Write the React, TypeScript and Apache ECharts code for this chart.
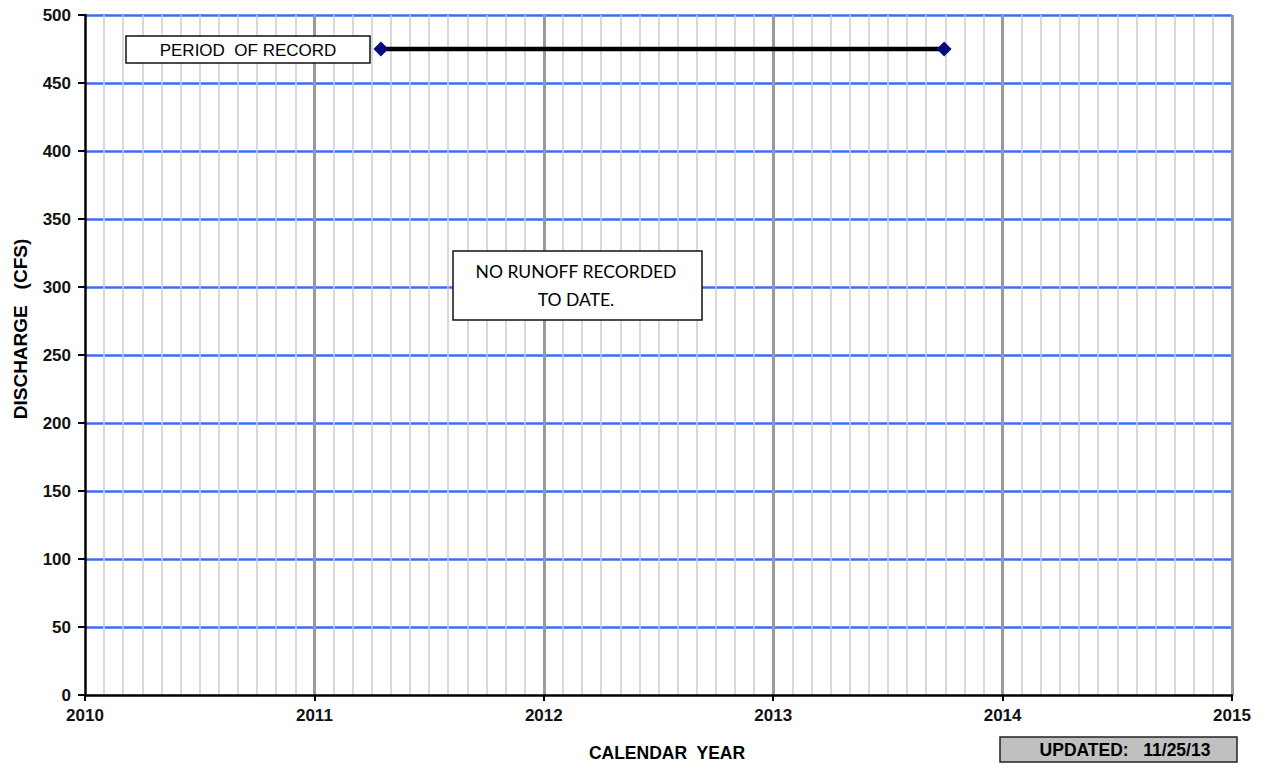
import React, { useEffect, useRef } from "react";
import * as echarts from "echarts";

const yearTicks = [2010, 2011, 2012, 2013, 2014, 2015];
const dischargeTicks = [0, 50, 100, 150, 200, 250, 300, 350, 400, 450, 500];
const periodYears = [2011.29, 2013.745];
const periodLevel = [475, 475];
const periodLabel = "PERIOD  OF RECORD";
const noteLines = ["NO RUNOFF RECORDED", "TO DATE."];
const updatedText = "UPDATED:   11/25/13";
const xTitle = "CALENDAR  YEAR";
const yTitle = "DISCHARGE   (CFS)";

export default function App() {
  const ref = useRef<HTMLDivElement>(null);
  useEffect(() => {
    if (!ref.current) return;
    const chart = echarts.init(ref.current, null, { renderer: "svg" });
    const font = "'Liberation Sans', Arial, sans-serif";
    chart.setOption({
      animation: false,
      backgroundColor: "#ffffff",
      grid: { left: 85, top: 15, right: 37, bottom: 74, containLabel: false },
      xAxis: {
        type: "value",
        min: yearTicks[0],
        max: yearTicks[yearTicks.length - 1],
        interval: 1,
        axisLine: { show: true, onZero: false, lineStyle: { color: "#000", width: 2.5 } },
        axisTick: { show: true, length: 6, lineStyle: { color: "#000", width: 2 } },
        axisLabel: {
          color: "#111",
          fontWeight: "bold",
          fontSize: 17,
          fontFamily: font,
          margin: 12,
          formatter: (v: number) => String(v),
        },
        splitLine: { show: true, showMinLine: false, lineStyle: { color: "#9a9a9a", width: 3 } },
        minorTick: { show: false, splitNumber: 12 },
        minorSplitLine: { show: true, lineStyle: { color: "#cccccc", width: 1.5 } },
      },
      yAxis: {
        type: "value",
        min: dischargeTicks[0],
        max: dischargeTicks[dischargeTicks.length - 1],
        interval: 50,
        axisLine: { show: true, onZero: false, lineStyle: { color: "#000", width: 2.5 } },
        axisTick: { show: true, length: 7, lineStyle: { color: "#000", width: 2 } },
        axisLabel: {
          color: "#111",
          fontWeight: "bold",
          fontSize: 17,
          fontFamily: font,
          margin: 14,
        },
        splitLine: { show: true, showMinLine: false, lineStyle: { color: "#3d6cf5", width: 2.5 } },
      },
      series: [
        {
          type: "line",
          data: periodYears.map((x, i) => [x, periodLevel[i]]),
          symbol: "diamond",
          symbolSize: 15,
          lineStyle: { color: "#000", width: 4.5 },
          itemStyle: { color: "#0a0a80" },
          z: 5,
        },
      ],
      graphic: [
        {
          type: "rect",
          shape: { x: 126, y: 36, width: 244, height: 27 },
          style: { fill: "#fff", stroke: "#111", lineWidth: 1.5 },
          z: 10,
        },
        {
          type: "text",
          x: 248,
          y: 50,
          style: {
            text: periodLabel,
            fill: "#000",
            font: "17px " + font,
            align: "center",
            verticalAlign: "middle",
          },
          z: 11,
        },
        {
          type: "rect",
          shape: { x: 453, y: 251, width: 249, height: 69 },
          style: { fill: "#fff", stroke: "#111", lineWidth: 1.5 },
          z: 10,
        },
        {
          type: "text",
          x: 576,
          y: 285,
          style: {
            text: noteLines.join("\n"),
            fill: "#000",
            font: "17.5px Lato, 'Open Sans', sans-serif",
            lineHeight: 28,
            align: "center",
            verticalAlign: "middle",
          },
          z: 11,
        },
        {
          type: "rect",
          shape: { x: 1000, y: 737, width: 237, height: 25 },
          style: { fill: "#c0c0c0", stroke: "#222", lineWidth: 1.5 },
          z: 10,
        },
        {
          type: "text",
          x: 1125,
          y: 750,
          style: {
            text: updatedText,
            fill: "#000",
            font: "bold 17.5px " + font,
            align: "center",
            verticalAlign: "middle",
          },
          z: 11,
        },
        {
          type: "text",
          x: 667,
          y: 753,
          style: {
            text: xTitle,
            fill: "#000",
            font: "bold 17.5px " + font,
            align: "center",
            verticalAlign: "middle",
          },
        },
        {
          type: "text",
          x: 20,
          y: 329,
          rotation: Math.PI / 2,
          style: {
            text: yTitle,
            fill: "#000",
            font: "bold 19px " + font,
            align: "center",
            verticalAlign: "middle",
          },
        },
      ],
    });
    return () => chart.dispose();
  }, []);
  return (
    <div
      ref={ref}
      style={{ position: "absolute", left: 0, top: 0, width: 1269, height: 769 }}
    />
  );
}
